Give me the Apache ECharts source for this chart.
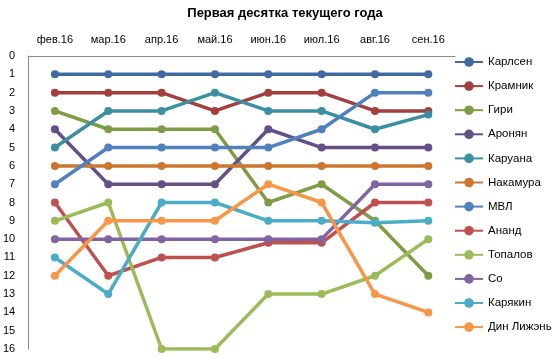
<!DOCTYPE html>
<html><head><meta charset="utf-8">
<script src="https://cdn.jsdelivr.net/npm/echarts@6/dist/echarts.min.js"></script>
<style>html,body{margin:0;padding:0;background:#fff}#c{width:560px;height:359px}</style>
</head><body><div id="c"></div>
<script>
var categories = ['фев.16','мар.16','апр.16','май.16','июн.16','июл.16','авг.16','сен.16'];
var yTicks = [0,1,2,3,4,5,6,7,8,9,10,11,12,13,14,15,16];
var names = ['Карлсен','Крамник','Гири','Аронян','Каруана','Накамура','МВЛ','Ананд','Топалов','Со','Карякин','Дин Лижэнь'];
var carlsen  = [1,1,1,1,1,1,1,1];
var kramnik  = [2,2,2,3,2,2,3,3];
var giri     = [3,4,4,4,8,7,9,12];
var aronian  = [4,7,7,7,4,5,5,5];
var caruana  = [5,3,3,2,3,3,4,3.2];
var nakamura = [6,6,6,6,6,6,6,6];
var mvl      = [7,5,5,5,5,4,2,2];
var anand    = [8,12,11,11,10.2,10.2,8,8];
var topalov  = [9,8,16,16,13,13,12,10];
var so       = [10,10,10,10,10,10,7,7];
var karjakin = [11,13,8,8,9,9,9.1,9];
var ding     = [12,9,9,9,7,8,13,14];
var seriesData = [carlsen,kramnik,giri,aronian,caruana,nakamura,mvl,anand,topalov,so,karjakin,ding];
var colors = ['#3F6B9F','#A33F3C','#7E9B46','#654F86','#3A8FA2','#CC7630','#4F81BD','#C0504D','#9BBB59','#8064A2','#4BACC6','#F79646'];

var chart = echarts.init(document.getElementById('c'), null, {renderer:'canvas'});
var font = 'Liberation Sans, Arial, sans-serif';
chart.setOption({
  animation:false,
  color: colors,
  title:{text:'Первая десятка текущего года', left:280, textAlign:'center', top:2,
    textStyle:{fontFamily:font, fontSize:13, fontWeight:'bold', color:'#000'}},
  legend:{orient:'vertical', left:449, top:51, itemWidth:28, itemHeight:12, itemGap:12.1,
    textStyle:{fontFamily:font, fontSize:11.5, color:'#000'},
    data:names},
  grid:{left:25, right:105, top:56, bottom:10},
  xAxis:{type:'category', position:'top', data:categories, boundaryGap:true,
    axisLine:{lineStyle:{color:'#888', width:1}}, axisTick:{show:false},
    axisLabel:{fontFamily:font, fontSize:11, color:'#000', margin:11}},
  yAxis:{type:'value', inverse:true, min:0, max:16, interval:1,
    splitLine:{show:false}, axisTick:{show:false},
    axisLine:{show:true, lineStyle:{color:'#888', width:1}},
    axisLabel:{fontFamily:font, fontSize:11, color:'#000', margin:13,
      formatter:function(v){return yTicks.indexOf(v)>=0?String(v):'';}}},
  series: names.map(function(n,i){
    return {name:n, type:'line', data:seriesData[i], symbol:'circle', symbolSize:8,
      lineStyle:{width:3.5, color:colors[i]}, itemStyle:{color:colors[i]}};
  })
});
</script></body></html>
